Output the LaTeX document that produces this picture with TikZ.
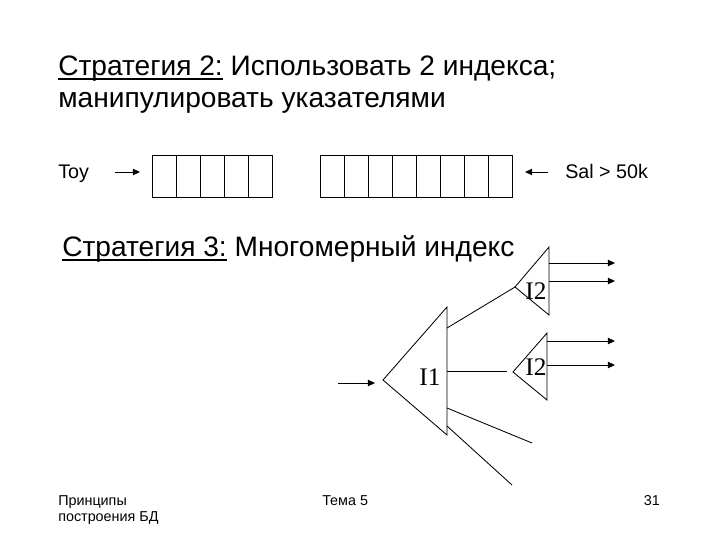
\documentclass[tikz,border=0pt]{standalone}
\usepackage{fontspec}
\setmainfont{Liberation Sans}
\newfontfamily\idxfont{Liberation Serif}
\usetikzlibrary{arrows.meta,positioning}
\newcommand{\ulword}[1]{\setbox0\hbox{#1}\rlap{\rule[-3.2pt]{\wd0}{.9pt}}\box0\relax}
\tikzset{
  cell/.style={draw,line width=.6pt,minimum width=.6cm,minimum height=1.05cm,inner sep=0pt,outer sep=0pt},
  ptr/.style={-{Triangle[length=5pt,width=4.5pt]},line width=.6pt},
  edge/.style={line width=.6pt},
  idx/.style={font=\idxfont\fontsize{18}{20}\selectfont,inner sep=0pt},
  heading/.style={anchor=base west,inner sep=0pt,font=\fontsize{20}{24}\selectfont},
  small/.style={anchor=base west,inner sep=0pt,font=\fontsize{14}{16}\selectfont},
  foot/.style={anchor=base west,inner sep=0pt,font=\fontsize{10.2}{12}\selectfont}
}
\begin{document}
\begin{tikzpicture}[x=.025cm,y=-.025cm]
  \useasboundingbox (0,0) rectangle (720,540);
  \node[heading] (title1) at (58,75) {\ulword{Стратегия 2:} Использовать 2 индекса;};
  \node[heading] (title2) at (58,107) {манипулировать указателями};
  % strategy 2
  \node[small] (toy) at (58,178) {Toy};
  \foreach \i in {1,...,5} {\node[cell] (a\i) at (164+\i*24-24,176) {};}
  \foreach \i in {1,...,8} {\node[cell] (b\i) at (332+\i*24-24,176) {};}
  \node[small] (sal) at (565,178) {Sal > 50k};
  \coordinate (toyS) at (115,172);
  \coordinate (toyE) at (140,172);
  \coordinate (salS) at (548,172);
  \coordinate (salE) at (525,172);
  \draw[ptr] (toyS) -- (toyE);
  \draw[ptr] (salS) -- (salE);
  % strategy 3
  \node[heading] (title3) at (62,256) {\ulword{Стратегия 3:} Многомерный индекс};
  \coordinate (t1) at (383,380);
  \coordinate (t1top) at (447,307);
  \coordinate (t1bot) at (447,435);
  \coordinate (u1) at (515,287);
  \coordinate (u1top) at (549,247);
  \coordinate (u1bot) at (549,315);
  \coordinate (u2) at (513,372);
  \coordinate (u2top) at (547,333);
  \coordinate (u2bot) at (547,400);
  \draw[edge] (t1) -- (t1top) -- (t1bot) -- cycle;
  \draw[edge] (u1) -- (u1top) -- (u1bot) -- cycle;
  \draw[edge] (u2) -- (u2top) -- (u2bot) -- cycle;
  \node[idx] (i1) at (430,377) {I1};
  \node[idx] (i2a) at (536,291) {I2};
  \node[idx] (i2b) at (536,367) {I2};
  \coordinate (inS) at (338,383);
  \coordinate (inE) at (375,383);
  \draw[ptr] (inS) -- (inE);
  \draw[edge] (447,328) -- (u1);
  \coordinate (c2) at (507,371);
  \coordinate (c3) at (532,443);
  \coordinate (c4) at (512,485);
  \draw[edge] (447,371) -- (c2);
  \draw[edge] (447,408) -- (c3);
  \draw[edge] (447,426) -- (c4);
  \foreach \y in {263,281} {\coordinate (p\y) at (615,\y); \draw[ptr] (549,\y) -- (p\y);}
  \foreach \y in {341,365} {\coordinate (p\y) at (615,\y); \draw[ptr] (547,\y) -- (p\y);}
  % footer
  \node[foot] (f1) at (58,505) {Принципы};
  \node[foot] (f2) at (58,521) {построения БД};
  \node[foot] (f3) at (322,505) {Тема 5};
  \node[foot,anchor=base east] (f4) at (660,505) {31};
\end{tikzpicture}
\end{document}
